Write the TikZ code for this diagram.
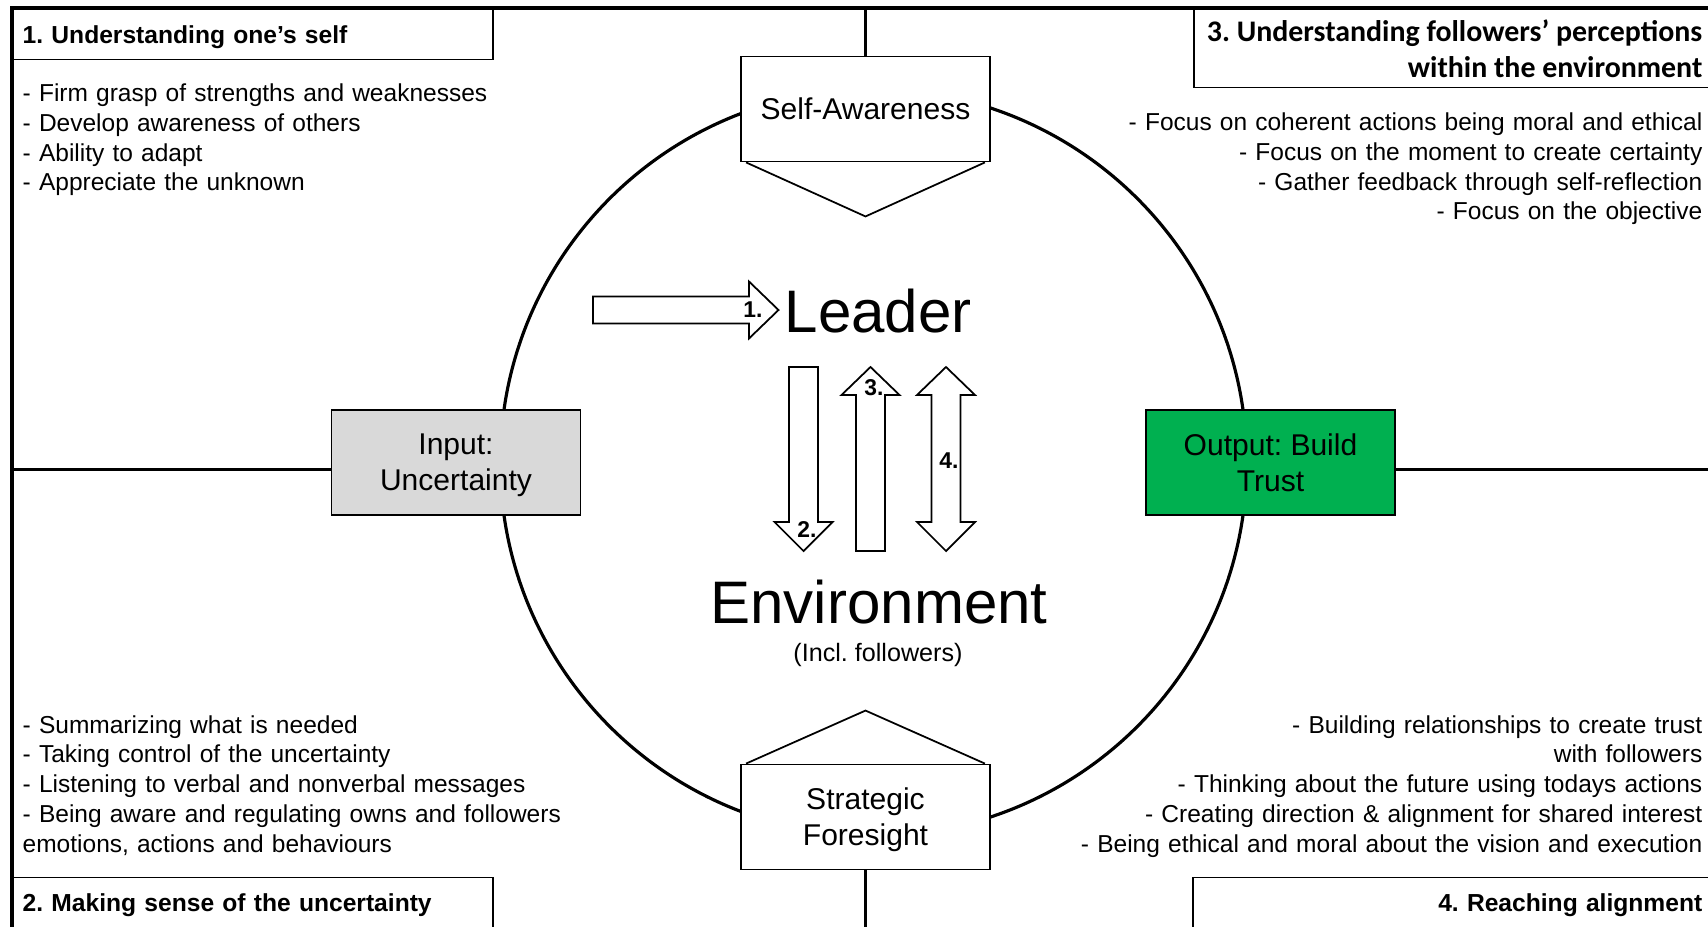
\documentclass[tikz,border=0pt]{standalone}
\usepackage{fontspec}
\setmainfont{Liberation Sans}
\newfontfamily\headfont{Carlito}
\usetikzlibrary{positioning}
\definecolor{buildgreen}{HTML}{00B050}
\definecolor{inputgrey}{HTML}{D9D9D9}
\frenchspacing

\begin{document}
\begin{tikzpicture}[x=0.01cm,y=-0.01cm,
        frame/.style={line width=1pt},
        ring/.style={line width=0.9pt},
        stage/.style={draw,line width=0.5pt,fill=white,minimum width=2.49cm,minimum height=1.05cm,
            inner sep=0pt,align=center,font=\fontsize{8.54}{10.24}\selectfont},
        heading/.style={draw,line width=0.4pt,inner xsep=0.1cm,inner ysep=0pt,minimum height=0.51cm,
            text height=0.2cm,text depth=0.02cm,font=\fontsize{7.0}{8.5}\selectfont\bfseries},
        bigheading/.style={draw,line width=0.4pt,inner xsep=0.13cm,inner ysep=0pt,minimum height=0.79cm,
            font=\headfont\fontsize{8.5}{10.24}\selectfont\bfseries},
        bullets/.style={inner sep=0pt,font=\fontsize{6.97}{8.48}\selectfont},
        big/.style={inner sep=0pt,font=\fontsize{17.07}{20}\selectfont},
        blockarrow/.style={draw,line width=0.5pt,fill=white,line join=miter},
        numlabel/.style={inner sep=0pt,font=\fontsize{6.5}{7}\selectfont\bfseries}]

    \useasboundingbox (0,0) rectangle (1708,927);

    \coordinate (hub) at (873.5,462.5);
    \coordinate (topleft) at (12,8);
    \coordinate (botleft) at (12,940);
    \coordinate (topright) at (1720,8);
    \coordinate (midleft) at (12,469.5);
    \coordinate (midright) at (1720,469.5);

    \draw[frame] (botleft) -- (topleft) -- (topright);
    \draw[ring] (hub) circle[radius=3.73cm];

    \node[stage] (self) at (865.5,109) {Self-Awareness};
    \node[stage] (fore) at (865.5,817) {Strategic\\\smash{Foresight}};
    \node[stage,fill=inputgrey] (input) at (456,462.5) {Input:\\\smash{Uncertainty}};
    \node[stage,fill=buildgreen] (output) at (1270.5,462.5) {Output: Build\\\smash{Trust}};

    \draw[frame] (self.north) -- (self.north |- topleft);
    \draw[frame] (fore.south) -- (fore.south |- botleft);
    \draw[frame] (midleft) -- (midleft -| input.west);
    \draw[frame] (output.east |- midright) -- (midright);

    \draw[line width=0.5pt] ([xshift=0.06cm]self.south west) -- ([yshift=-0.54cm]self.south) -- ([xshift=-0.06cm]self.south east);
    \draw[line width=0.5pt] ([xshift=0.06cm]fore.north west) -- ([yshift=0.53cm]fore.north) -- ([xshift=-0.06cm]fore.north east);

    \node[heading,anchor=north west,text width=4.6cm,align=left] (one) at (topleft) {1. Understanding one’s self};
    \node[heading,anchor=south west,text width=4.6cm,align=left] (two) at (12,929) {2. Making sense of the uncertainty};
    \node[bigheading,anchor=north east,align=right] (three) at (1716,8)
        {3. Understanding followers’ perceptions\\\smash{within the environment}};
    \node[heading,anchor=south east,inner xsep=0.09cm,text width=5cm,align=right] (four) at (1712,929) {4. Reaching alignment};

    \node[bullets,anchor=base west,text width=5.5cm,align=left] (onelist) at (22,101.5)
        {- Firm grasp of strengths and weaknesses\\- Develop awareness of others\\- Ability to adapt\\- Appreciate the unknown};
    \node[bullets,anchor=base east,text width=7cm,align=right] (threelist) at (1703,130.5)
        {- Focus on coherent actions being moral and ethical\\- Focus on the moment to create certainty\\- Gather feedback through self-reflection\\- Focus on the objective};
    \node[bullets,anchor=base west,text width=6cm,align=left] (twolist) at (22,733)
        {- Summarizing what is needed\\- Taking control of the uncertainty\\- Listening to verbal and nonverbal messages\\- Being aware and regulating owns and followers\\emotions, actions and behaviours};
    \node[bullets,anchor=base east,text width=7cm,align=right] (fourlist) at (1703,733)
        {- Building relationships to create trust\\with followers\\- Thinking about the future using todays actions\\- Creating direction \& alignment for shared interest\\- Being ethical and moral about the vision and execution};

    \node[big,anchor=base west] (leader) at (784,332) {Leader};
    \node[big,anchor=base] (env) at (879,623.5) {Environment};
    \node[bullets,anchor=base,font=\fontsize{7.15}{8.5}\selectfont] (incl) at (878,661) {(Incl. followers)};

    \draw[blockarrow] (593,296.5) -- (749,296.5) -- (749,281.5) -- (778.5,310) -- (749,338.5) -- (749,323.5) -- (593,323.5) -- cycle;
    \draw[blockarrow] (789,367) -- (818,367) -- (818,522) -- (832.5,522) -- (803.5,551) -- (774.5,522) -- (789,522) -- cycle;
    \draw[blockarrow] (856,551) -- (856,395) -- (841.5,395) -- (870.5,367) -- (899.5,395) -- (885,395) -- (885,551) -- cycle;
    \draw[blockarrow] (931.5,395) -- (917,395) -- (946,367) -- (975,395) -- (960.5,395) -- (960.5,522) -- (975,522) -- (946,551) -- (917,522) -- (931.5,522) -- cycle;

    \node[numlabel] (n1) at (753,310) {1.};
    \node[numlabel] (n2) at (807,530) {2.};
    \node[numlabel] (n3) at (874,388) {3.};
    \node[numlabel] (n4) at (949,460.5) {4.};
\end{tikzpicture}
\end{document}
